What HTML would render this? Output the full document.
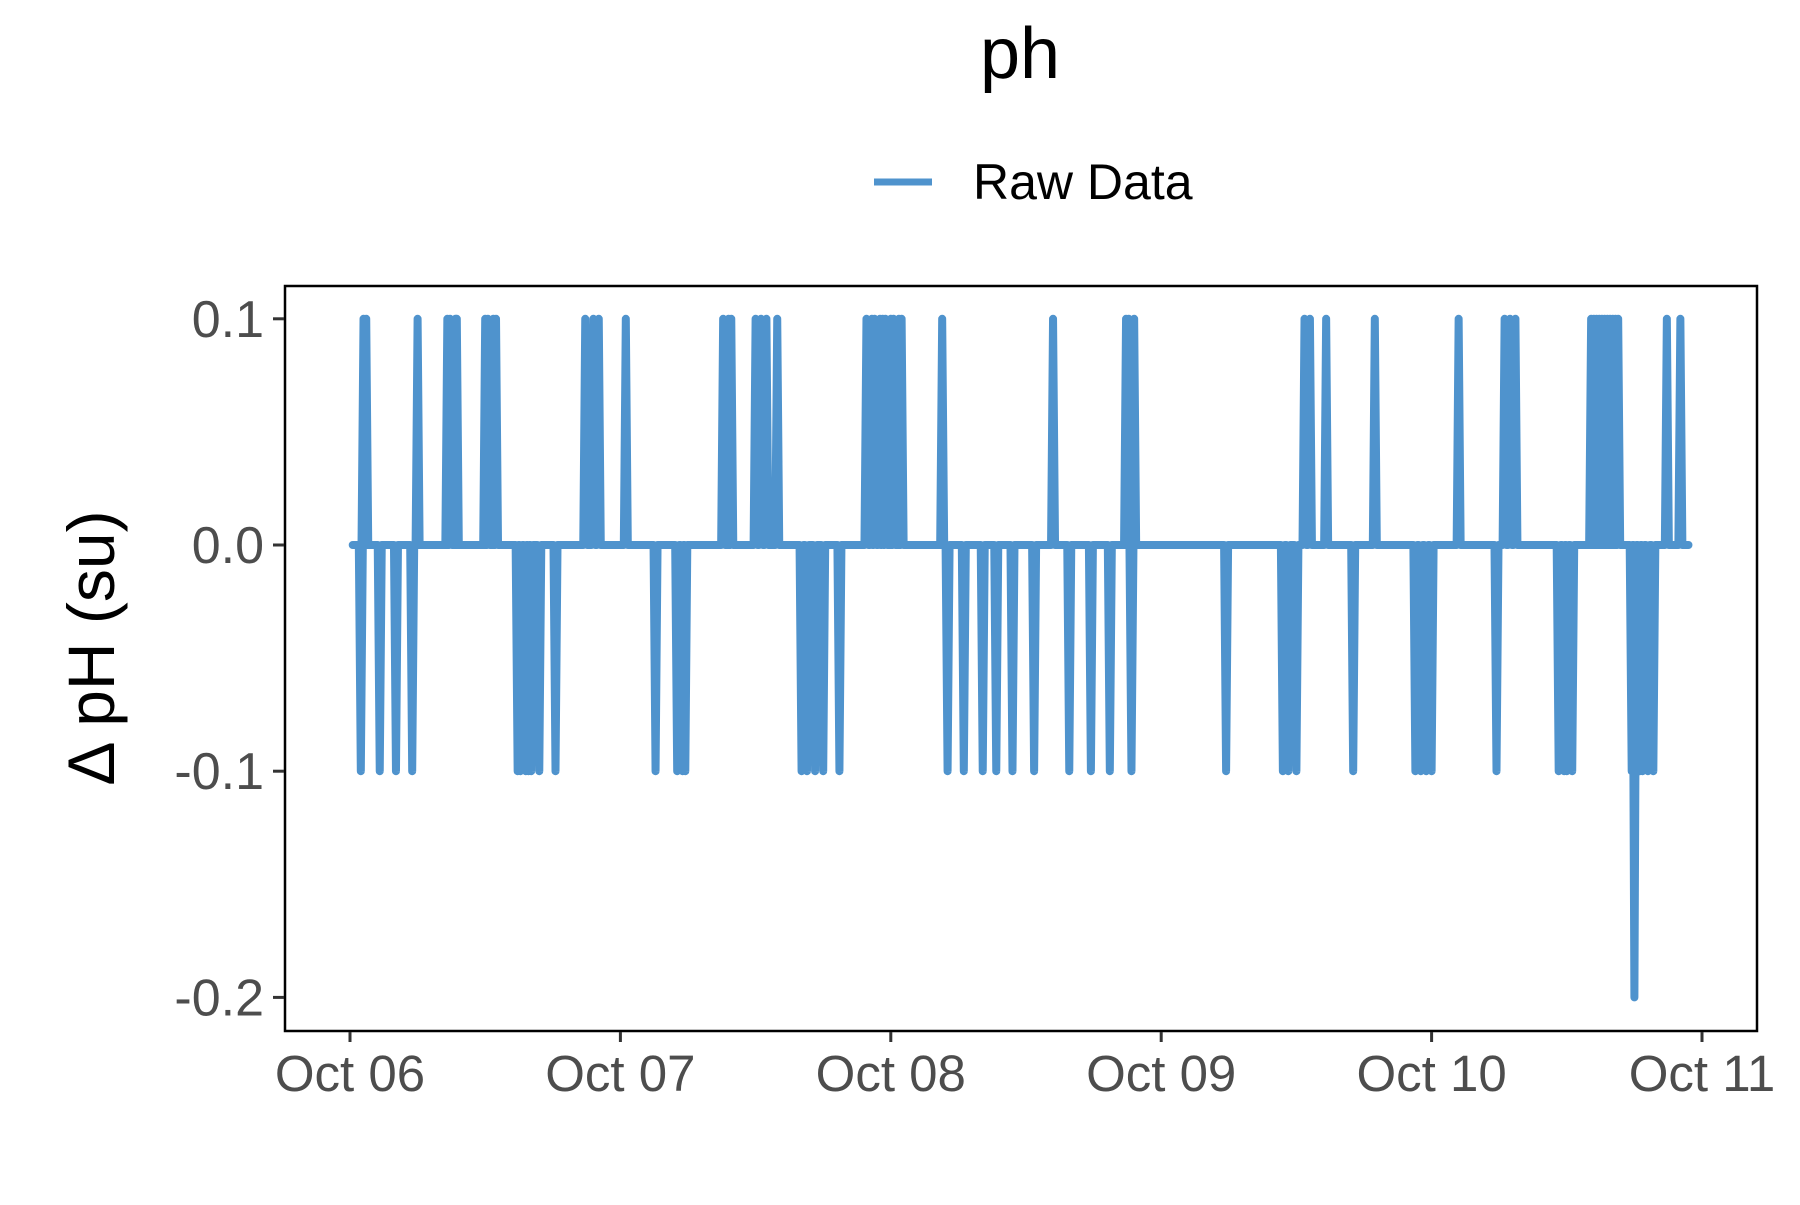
<!DOCTYPE html>
<html><head><meta charset="utf-8"><style>
body{margin:0;background:#fff}
svg text{font-family:"Liberation Sans",Arial,sans-serif}
</style></head><body>
<svg id="chart" width="1800" height="1200" xmlns="http://www.w3.org/2000/svg">
<text x="1020" y="78" font-size="72" text-anchor="middle" fill="#000">ph</text>
<g>
<line x1="874" y1="182" x2="932" y2="182" stroke="#4f93cd" stroke-width="7"/>
<text x="973" y="199" font-size="50" fill="#000">Raw Data</text>
</g>
<text transform="translate(114,648) rotate(-90)" font-size="66" text-anchor="middle" fill="#000">Δ pH (su)</text>
<g id="plot"></g>
<rect x="285" y="286" width="1472" height="745" fill="none" stroke="#000" stroke-width="2.5"/>
<g id="axes"></g>
</svg>
<script>
const xTickLabels=["Oct 06","Oct 07","Oct 08","Oct 09","Oct 10","Oct 11"];
const yTicks=[0.1,0.0,-0.1,-0.2];
const yTickLabels=["0.1","0.0","-0.1","-0.2"];
const seriesStart=0.01, seriesEnd=4.95;
const spikeDays=[0.05,0.06,0.25,0.36,0.37,0.39,0.395,0.50,0.51,0.53,0.54,0.87,0.90,0.92,1.02,1.38,1.40,1.41,1.50,1.52,1.54,1.58,1.91,1.93,1.94,1.96,1.97,1.98,2.00,2.01,2.03,2.04,2.19,2.60,2.87,2.88,2.90,3.53,3.55,3.61,3.79,4.10,4.27,4.29,4.31,4.59,4.60,4.61,4.62,4.63,4.64,4.65,4.66,4.67,4.68,4.69,4.87,4.92,
0.04,0.11,0.17,0.23,0.62,0.63,0.65,0.66,0.67,0.70,0.76,1.13,1.21,1.23,1.24,1.67,1.69,1.72,1.75,1.81,2.21,2.27,2.34,2.39,2.45,2.53,2.66,2.74,2.81,2.89,3.24,3.45,3.47,3.50,3.71,3.94,3.96,3.98,4.00,4.24,4.47,4.49,4.50,4.52,4.74,4.75,4.77,4.78,4.80,4.82];
const spikeValues=[0.1,0.1,0.1,0.1,0.1,0.1,0.1,0.1,0.1,0.1,0.1,0.1,0.1,0.1,0.1,0.1,0.1,0.1,0.1,0.1,0.1,0.1,0.1,0.1,0.1,0.1,0.1,0.1,0.1,0.1,0.1,0.1,0.1,0.1,0.1,0.1,0.1,0.1,0.1,0.1,0.1,0.1,0.1,0.1,0.1,0.1,0.1,0.1,0.1,0.1,0.1,0.1,0.1,0.1,0.1,0.1,0.1,0.1,
-0.1,-0.1,-0.1,-0.1,-0.1,-0.1,-0.1,-0.1,-0.1,-0.1,-0.1,-0.1,-0.1,-0.1,-0.1,-0.1,-0.1,-0.1,-0.1,-0.1,-0.1,-0.1,-0.1,-0.1,-0.1,-0.1,-0.1,-0.1,-0.1,-0.1,-0.1,-0.1,-0.1,-0.1,-0.1,-0.1,-0.1,-0.1,-0.1,-0.1,-0.1,-0.1,-0.1,-0.1,-0.1,-0.2,-0.1,-0.1,-0.1,-0.1];
const NS="http://www.w3.org/2000/svg";
const xS=d=>350+d*270.4;
const yS=v=>545-v*2262;
const plot=document.getElementById('plot'), axes=document.getElementById('axes');
const order=spikeDays.map((d,i)=>i).sort((a,b)=>spikeDays[a]-spikeDays[b]);
let p=`M${xS(seriesStart)},${yS(0)}`;
order.forEach(i=>{const x=xS(spikeDays[i]);p+=` L${x-2},${yS(0)} L${x},${yS(spikeValues[i])} L${x+2},${yS(0)}`;});
p+=` L${xS(seriesEnd)},${yS(0)}`;
const path=document.createElementNS(NS,'path');


path.setAttribute('d',p);path.setAttribute('fill','none');path.setAttribute('stroke','#4f93cd');
path.setAttribute('stroke-width','8');path.setAttribute('stroke-linejoin','round');path.setAttribute('stroke-linecap','round');
plot.appendChild(path);
xTickLabels.forEach((l,i)=>{const x=xS(i);
const t=document.createElementNS(NS,'line');


t.setAttribute('x1',x);t.setAttribute('x2',x);t.setAttribute('y1',1032);t.setAttribute('y2',1042);t.setAttribute('stroke','#333');t.setAttribute('stroke-width','3');axes.appendChild(t);
const tx=document.createElementNS(NS,'text');


tx.setAttribute('x',x);tx.setAttribute('y',1091);tx.setAttribute('font-size','51');tx.setAttribute('text-anchor','middle');tx.setAttribute('fill','#4d4d4d');tx.textContent=l;axes.appendChild(tx);});
yTicks.forEach((v,i)=>{const y=yS(v);
const t=document.createElementNS(NS,'line');


t.setAttribute('x1',273);t.setAttribute('x2',284);t.setAttribute('y1',y);t.setAttribute('y2',y);t.setAttribute('stroke','#333');t.setAttribute('stroke-width','3');axes.appendChild(t);
const tx=document.createElementNS(NS,'text');


tx.setAttribute('x',264);tx.setAttribute('y',y+18);tx.setAttribute('font-size','52');tx.setAttribute('text-anchor','end');tx.setAttribute('fill','#4d4d4d');tx.textContent=yTickLabels[i];axes.appendChild(tx);});
</script>
</body></html>
